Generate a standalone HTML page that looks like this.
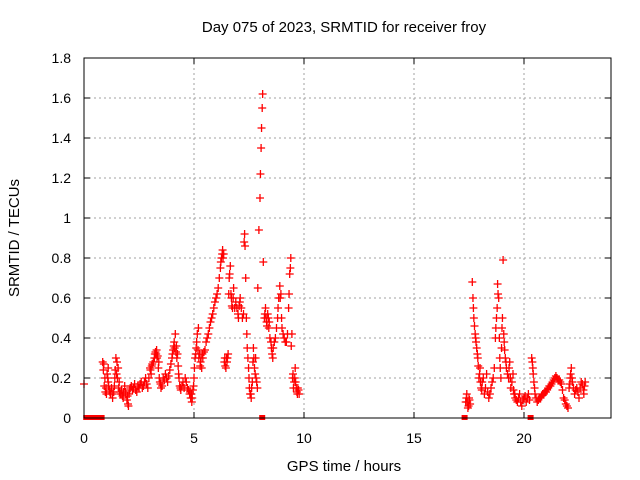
<!DOCTYPE html>
<html><head><meta charset="utf-8">
<style>
body{margin:0;background:#fff;}
svg{display:block;font-family:"Liberation Sans",sans-serif;}
</style></head>
<body>
<svg id="chart" width="640" height="480" viewBox="0 0 640 480">
<rect width="640" height="480" fill="#fff"/>
<text x="344" y="32" font-size="15" text-anchor="middle">Day 075 of 2023, SRMTID for receiver froy</text>
<text transform="translate(19,238) rotate(-90)" font-size="15" text-anchor="middle">SRMTID / TECUs</text>
<text x="344" y="471" font-size="15" text-anchor="middle">GPS time / hours</text>
<g id="grid"></g><g id="ticks"></g><g id="marks"></g>
<rect x="84" y="58" width="527" height="360" fill="none" stroke="#000" stroke-width="1"/>
</svg>
<script>
const xTicks=[0,5,10,15,20];
const yTicks=[0,0.2,0.4,0.6,0.8,1,1.2,1.4,1.6,1.8];
const yTickLabels=["0","0.2","0.4","0.6","0.8","1","1.2","1.4","1.6","1.8"];
const zeroTimes=[0.1,0.2,0.3,0.4,0.5,0.6,0.7,0.8,8.1,17.3,20.3];
const segA=[[0.0,0.17],[0.85,0.28],[0.9,0.27],[0.95,0.2],[1.0,0.15],[1.02,0.12],[1.05,0.22],[1.1,0.25],[1.1,0.18],[1.15,0.14],[1.2,0.12],[1.25,0.15],[1.3,0.1],[1.35,0.13],[1.4,0.2],[1.45,0.3],[1.5,0.28],[1.55,0.25],[1.6,0.18],[1.65,0.12],[1.7,0.14],[1.75,0.11],[1.8,0.13],[1.85,0.16],[1.9,0.12],[1.95,0.09],[2.0,0.07],[2.05,0.12],[2.1,0.15],[2.2,0.14],[2.3,0.17],[2.4,0.13],[2.5,0.15],[2.6,0.18],[2.7,0.16],[2.8,0.2],[2.9,0.15],[3.0,0.25],[3.05,0.22],[3.1,0.27],[3.2,0.3],[3.25,0.33],[3.3,0.34],[3.35,0.31],[3.4,0.28],[3.45,0.18],[3.5,0.15],[3.6,0.2],[3.7,0.22],[3.8,0.18],[3.9,0.24],[4.0,0.3],[4.05,0.34],[4.1,0.38],[4.15,0.42],[4.2,0.36],[4.25,0.32],[4.3,0.22],[4.35,0.16],[4.4,0.14],[4.5,0.18],[4.6,0.2],[4.7,0.15],[4.8,0.12],[4.85,0.1],[4.9,0.08],[4.95,0.14],[5.0,0.2],[5.05,0.3],[5.1,0.35],[5.15,0.42],[5.2,0.45],[5.25,0.32],[5.3,0.28],[5.35,0.25],[5.4,0.3],[5.5,0.34],[5.6,0.4],[5.7,0.45],[5.8,0.5],[5.9,0.55],[6.0,0.6],[6.1,0.65],[6.2,0.75],[6.25,0.8],[6.3,0.84],[6.35,0.82],[6.4,0.3],[6.45,0.25],[6.5,0.28],[6.55,0.32],[6.6,0.7],[6.65,0.76],[6.7,0.6],[6.75,0.55],[6.8,0.65],[6.9,0.58],[7.0,0.52],[7.05,0.56],[7.1,0.6],[7.2,0.5],[7.3,0.92],[7.32,0.86],[7.35,0.7],[7.4,0.42],[7.45,0.3],[7.5,0.2],[7.55,0.12],[7.6,0.1],[7.65,0.18],[7.7,0.35],[7.75,0.25],[7.8,0.3],[7.85,0.18],[7.9,0.65],[7.95,0.94],[8.0,1.1],[8.02,1.22],[8.05,1.35],[8.07,1.45],[8.1,1.55],[8.12,1.62],[8.15,0.78],[8.2,0.5],[8.25,0.55],[8.3,0.48],[8.35,0.52],[8.4,0.45],[8.5,0.38],[8.55,0.32],[8.6,0.35],[8.7,0.4],[8.8,0.5],[8.85,0.6],[8.9,0.66],[8.95,0.62],[9.0,0.45],[9.1,0.4],[9.2,0.38],[9.3,0.55],[9.35,0.72],[9.4,0.8],[9.45,0.42],[9.5,0.22],[9.55,0.18],[9.6,0.25],[9.65,0.15],[9.7,0.12],[9.75,0.14]];
const segA2=[[0.88,0.24],[0.92,0.16],[0.97,0.13],[1.08,0.2],[1.12,0.16],[1.18,0.13],[1.28,0.12],[1.38,0.16],[1.42,0.24],[1.48,0.22],[1.52,0.2],[1.58,0.15],[1.62,0.13],[1.72,0.12],[1.78,0.1],[1.88,0.13],[1.98,0.11],[2.02,0.06],[2.08,0.14],[2.15,0.16],[2.25,0.15],[2.35,0.14],[2.45,0.16],[2.55,0.17],[2.65,0.15],[2.75,0.18],[2.85,0.17],[2.95,0.2],[3.02,0.24],[3.08,0.26],[3.15,0.28],[3.22,0.32],[3.28,0.32],[3.32,0.3],[3.38,0.25],[3.42,0.2],[3.48,0.17],[3.55,0.16],[3.65,0.19],[3.75,0.2],[3.85,0.21],[3.95,0.27],[4.02,0.32],[4.08,0.36],[4.12,0.35],[4.18,0.33],[4.22,0.3],[4.28,0.26],[4.32,0.2],[4.38,0.15],[4.45,0.16],[4.55,0.15],[4.65,0.18],[4.75,0.14],[4.82,0.13],[4.88,0.12],[4.92,0.1],[4.98,0.16],[5.02,0.25],[5.08,0.32],[5.12,0.38],[5.18,0.34],[5.22,0.3],[5.28,0.26],[5.32,0.3],[5.38,0.32],[5.45,0.33],[5.55,0.38],[5.65,0.42],[5.75,0.48],[5.85,0.52],[5.95,0.58],[6.05,0.62],[6.15,0.7],[6.22,0.78],[6.28,0.82],[6.32,0.8],[6.38,0.28],[6.42,0.26],[6.48,0.3],[6.52,0.3],[6.58,0.62],[6.62,0.72],[6.68,0.62],[6.72,0.56],[6.78,0.6],[6.85,0.55],[6.95,0.55],[7.02,0.5],[7.08,0.58],[7.15,0.55],[7.25,0.52],[7.28,0.88],[7.38,0.5],[7.42,0.35],[7.48,0.25],[7.52,0.15],[7.58,0.12],[7.62,0.15],[7.68,0.28],[7.72,0.3],[7.78,0.22],[7.82,0.2],[7.88,0.15],[8.22,0.52],[8.28,0.5],[8.32,0.46],[8.38,0.5],[8.42,0.48],[8.45,0.4],[8.52,0.35],[8.58,0.3],[8.65,0.38],[8.75,0.45],[8.82,0.55],[8.92,0.6],[8.98,0.5],[9.05,0.42],[9.15,0.38],[9.25,0.42],[9.32,0.62],[9.38,0.75],[9.42,0.36],[9.48,0.2],[9.52,0.15],[9.58,0.2],[9.62,0.18],[9.68,0.13],[9.72,0.15],[9.78,0.12]];
const segB=[[17.35,0.08],[17.4,0.12],[17.45,0.05],[17.5,0.1],[17.55,0.07],[17.65,0.68],[17.7,0.55],[17.75,0.46],[17.8,0.4],[17.85,0.35],[17.9,0.3],[17.95,0.2],[18.0,0.25],[18.05,0.15],[18.1,0.18],[18.2,0.12],[18.3,0.22],[18.4,0.1],[18.5,0.15],[18.6,0.2],[18.7,0.4],[18.75,0.5],[18.8,0.67],[18.85,0.6],[18.9,0.3],[18.95,0.2],[19.0,0.45],[19.05,0.79],[19.1,0.38],[19.15,0.3],[19.2,0.25],[19.3,0.2],[19.35,0.28],[19.4,0.15],[19.5,0.22],[19.55,0.12],[19.6,0.1],[19.7,0.08],[19.8,0.12],[19.9,0.06],[20.0,0.1],[20.1,0.08],[20.2,0.12],[20.35,0.3],[20.4,0.25],[20.45,0.18],[20.5,0.12],[20.6,0.08],[20.7,0.1],[20.8,0.11],[20.9,0.12],[21.0,0.13],[21.1,0.15],[21.2,0.16],[21.3,0.18],[21.4,0.2],[21.5,0.2],[21.6,0.19],[21.7,0.17],[21.8,0.1],[21.9,0.07],[22.0,0.05],[22.05,0.15],[22.1,0.2],[22.15,0.25],[22.2,0.18],[22.3,0.12],[22.4,0.15],[22.5,0.1],[22.6,0.18],[22.7,0.14],[22.75,0.16]];
const segB2=[[17.38,0.1],[17.42,0.08],[17.48,0.06],[17.52,0.09],[17.68,0.6],[17.72,0.5],[17.78,0.42],[17.82,0.38],[17.88,0.32],[17.92,0.26],[17.98,0.22],[18.02,0.18],[18.08,0.14],[18.15,0.2],[18.25,0.15],[18.35,0.13],[18.45,0.12],[18.55,0.18],[18.65,0.25],[18.72,0.45],[18.78,0.55],[18.82,0.62],[18.88,0.4],[18.92,0.25],[18.98,0.35],[19.02,0.5],[19.08,0.42],[19.12,0.34],[19.18,0.28],[19.25,0.22],[19.32,0.25],[19.38,0.2],[19.45,0.18],[19.52,0.14],[19.58,0.12],[19.65,0.09],[19.75,0.1],[19.85,0.08],[19.95,0.09],[20.05,0.11],[20.15,0.1],[20.25,0.09],[20.38,0.28],[20.42,0.22],[20.48,0.15],[20.55,0.1],[20.65,0.09],[20.75,0.1],[20.85,0.12],[20.95,0.13],[21.05,0.14],[21.15,0.16],[21.25,0.17],[21.35,0.19],[21.45,0.21],[21.55,0.19],[21.65,0.18],[21.75,0.14],[21.85,0.09],[21.95,0.06],[22.08,0.17],[22.12,0.22],[22.18,0.2],[22.25,0.15],[22.35,0.14],[22.45,0.13],[22.55,0.15],[22.65,0.17],[22.72,0.12],[22.78,0.18]];
const NS="http://www.w3.org/2000/svg";
const X0=84,X1=612,Y0=418,Y1=58,XMAX=24,YMAX=1.8;
function xs(t){return X0+(X1-X0)*t/XMAX;}
function ys(v){return Y0-(Y0-Y1)*v/YMAX;}
function mk(tag,attrs,parent){const e=document.createElementNS(NS,tag);for(const k in attrs)e.setAttribute(k,attrs[k]);parent.appendChild(e);return e;}
const grid=document.getElementById('grid'),ticks=document.getElementById('ticks'),marks=document.getElementById('marks');
yTicks.forEach((v,i)=>{
  const y=ys(v);
  if(i>0&&i<yTicks.length-1){const g=mk('line',{x1:X0,x2:611,y1:y,y2:y,stroke:'#a0a0a0','stroke-dasharray':'2,3'},grid);
  
  }
  mk('line',{x1:X0,x2:X0+6,y1:y,y2:y,stroke:'#000'},ticks);
  mk('line',{x1:605,x2:611,y1:y,y2:y,stroke:'#000'},ticks);
  const t=mk('text',{x:71,y:y+5,'font-size':14,'text-anchor':'end'},ticks);t.textContent=yTickLabels[i];
  
  
});
xTicks.forEach((v,i)=>{
  const x=xs(v);
  if(i>0){const g=mk('line',{x1:x,x2:x,y1:58,y2:418,stroke:'#a0a0a0','stroke-dasharray':'2,3'},grid);
  
  }
  mk('line',{x1:x,x2:x,y1:418,y2:412,stroke:'#000'},ticks);
  mk('line',{x1:x,x2:x,y1:58,y2:64,stroke:'#000'},ticks);
  const t=mk('text',{x:x,y:443,'font-size':14,'text-anchor':'middle'},ticks);t.textContent=String(v);
  
  
});
function plus(t,v){
  const x=xs(t),y=ys(v);
  const p=mk('path',{d:`M${x-4},${y}h8M${x},${y-4}v8`,stroke:'#f00','stroke-width':1.3,fill:'none'},marks);
  
  
}
[segA,segA2,segB,segB2].forEach(s=>s.forEach(d=>plus(d[0],d[1])));
zeroTimes.forEach(t=>{
  const r=mk('rect',{x:xs(t)-3,y:Y0-3,width:6,height:5,fill:'#f00'},marks);
  
  
});
</script>
</body></html>
